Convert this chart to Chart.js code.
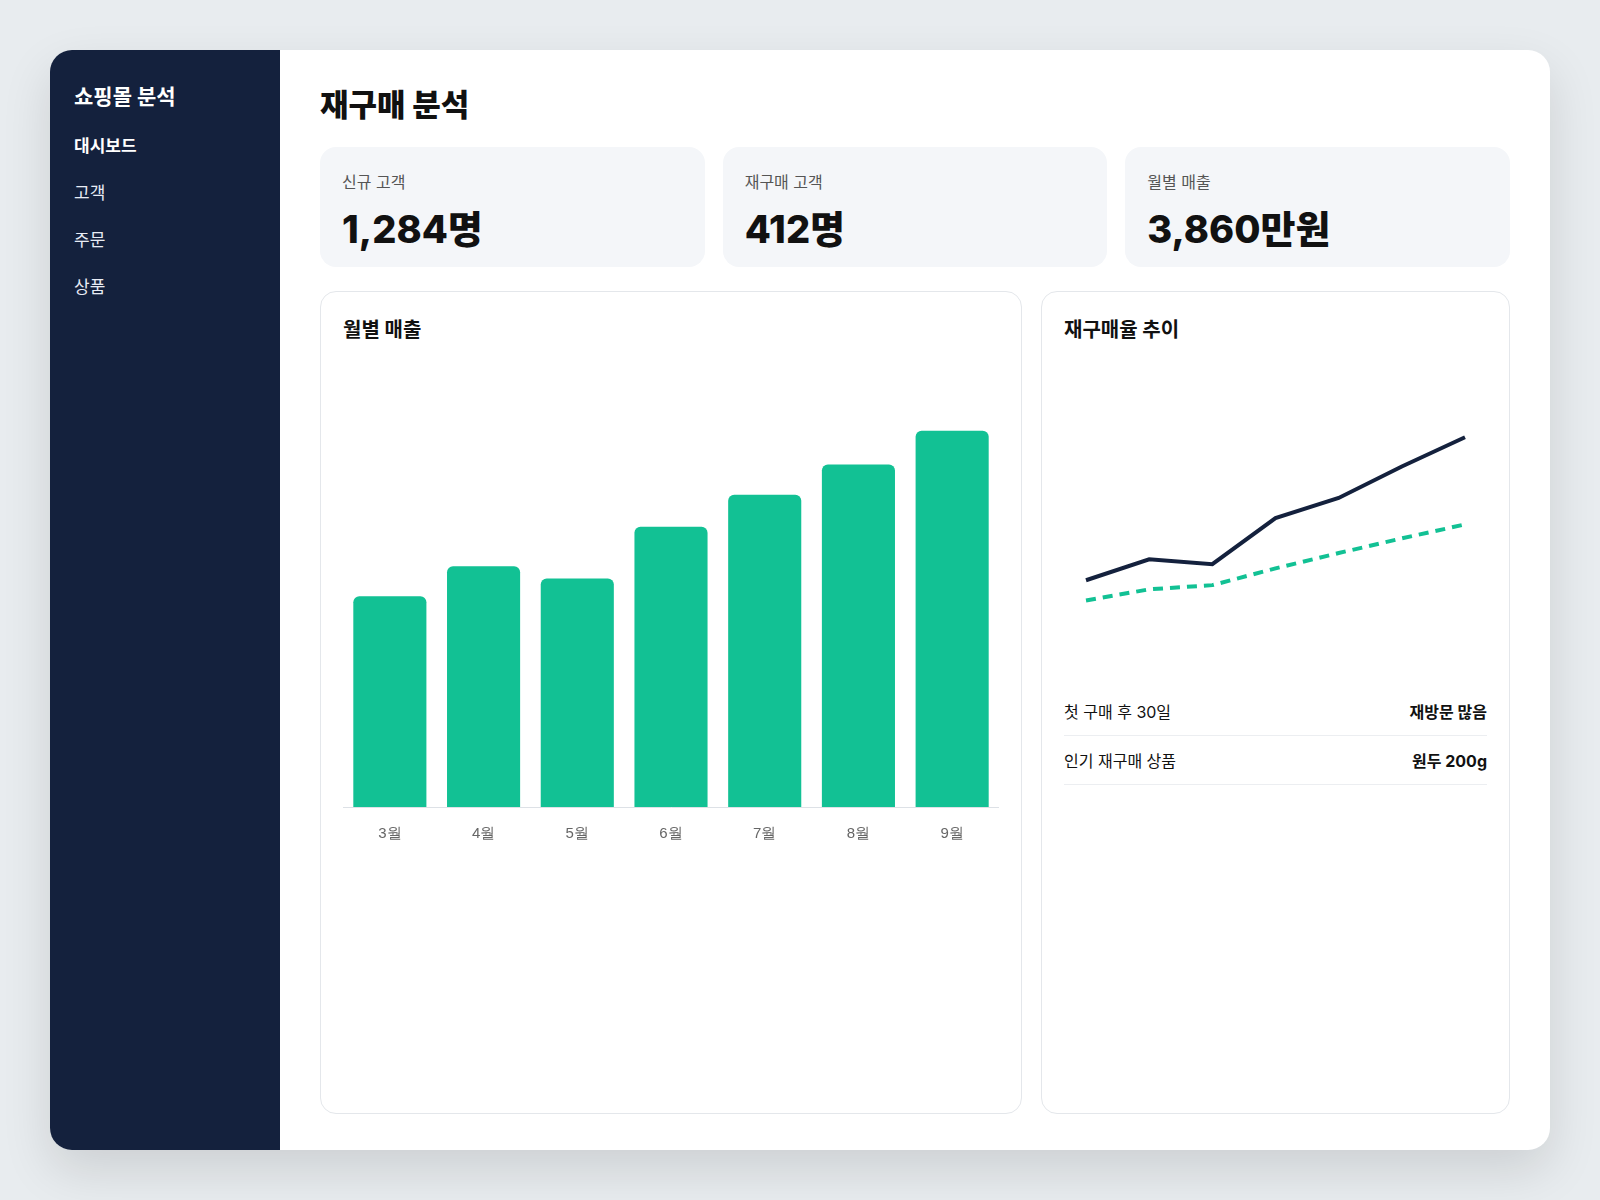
<!DOCTYPE html>
<html lang="ko">
<head>
<meta charset="utf-8">
<script src="https://cdn.jsdelivr.net/npm/chart.js@4"></script>
<style>
  * { box-sizing: border-box; margin: 0; padding: 0; }
  body { width: 1600px; height: 1200px; background: #e8ecef; font-family: Inter, "Noto Sans CJK KR", sans-serif; color: #111; }
  .app { position: absolute; left: 50px; top: 50px; width: 1500px; height: 1100px; background: #fff; border-radius: 22px; overflow: hidden; display: flex; box-shadow: 0 20px 50px rgba(0,0,0,.12); }
  .side { width: 230px; background: #14213d; color: #fff; padding: 30px 24px; }
  .side h2 { font-size: 21px; font-weight: 700; margin-bottom: 22px; }
  .side a { display: block; color: #e8ecf5; font-size: 17px; margin-bottom: 22px; }
  .side a.on { font-weight: 700; color: #fff; }
  .main { flex: 1; padding: 30px 40px; }
  h1 { font-size: 31px; font-weight: 800; margin-bottom: 22px; }
  .kpis { display: flex; gap: 18px; margin-bottom: 24px; }
  .kpi { flex: 1; background: #f4f6f9; border-radius: 16px; height: 120px; padding: 22px 22px; }
  .kpi .l { font-size: 16px; color: #555; }
  .kpi .v { font-size: 38px; font-weight: 800; margin-top: 6px; }
  .row { display: flex; gap: 19px; }
  .panel { border: 1px solid #e4e7eb; border-radius: 16px; height: 823px; padding: 22px 22px; }
  .panel h3 { font-size: 20px; font-weight: 700; }
  .p1 { width: 702px; }
  .p2 { flex: 1; }
  .bars { position: relative; height: 490px; margin-top: 20px; }
  .lines { position: relative; height: 300px; margin-top: 14px; }
  .info { margin-top: 30px; }
  .info div { display: flex; justify-content: space-between; font-size: 16px; padding: 12px 0; border-bottom: 1px solid #eceef1; }
  .info b { font-weight: 700; }
</style>
</head>
<body>
<div class="app">
  <div class="side">
    <h2>쇼핑몰 분석</h2>
    <a class="on">대시보드</a><a>고객</a><a>주문</a><a>상품</a>
  </div>
  <div class="main">
    <h1>재구매 분석</h1>
    <div class="kpis">
      <div class="kpi"><div class="l">신규 고객</div><div class="v">1,284명</div></div>
      <div class="kpi"><div class="l">재구매 고객</div><div class="v">412명</div></div>
      <div class="kpi"><div class="l">월별 매출</div><div class="v">3,860만원</div></div>
    </div>
    <div class="row">
      <div class="panel p1"><h3>월별 매출</h3><div class="bars"><canvas id="barChart"></canvas></div></div>
      <div class="panel p2"><h3>재구매율 추이</h3><div class="lines"><canvas id="lineChart"></canvas></div>
        <div class="info">
          <div><span>첫 구매 후 30일</span><b>재방문 많음</b></div>
          <div><span>인기 재구매 상품</span><b>원두 200g</b></div>
        </div>
      </div>
    </div>
  </div>
</div>
<script>
const months = ["3월", "4월", "5월", "6월", "7월", "8월", "9월"];
const sales = [560, 640, 607, 745, 830, 910, 1000];
const repeatRate = [11.0, 14.0, 13.3, 19.9, 22.8, 27.3, 31.5];
const compareRate = [8.1, 9.7, 10.3, 12.7, 14.9, 17.0, 19.0];

new Chart(document.getElementById("barChart"), {
  type: "bar",
  data: {
    labels: months,
    datasets: [{ data: sales, backgroundColor: "#12c194", borderRadius: 6, borderSkipped: "bottom", categoryPercentage: 0.78, barPercentage: 1 }]
  },
  options: {
    responsive: true, maintainAspectRatio: false, animation: false,
    plugins: { legend: { display: false }, tooltip: { enabled: false } },
    scales: {
      x: { grid: { display: false }, border: { color: "#dde1e6" }, ticks: { color: "#666", font: { size: 15 }, padding: 10 } },
      y: { display: false, min: 0, max: 1180 }
    }
  }
});

new Chart(document.getElementById("lineChart"), {
  type: "line",
  data: {
    labels: months,
    datasets: [
      { data: repeatRate, borderColor: "#14213d", borderWidth: 4, pointRadius: 0, tension: 0 },
      { data: compareRate, borderColor: "#12c194", borderWidth: 4, borderDash: [10, 7], pointRadius: 0, tension: 0 }
    ]
  },
  options: {
    responsive: true, maintainAspectRatio: false, animation: false,
    layout: { padding: { left: 22, right: 22 } },
    plugins: { legend: { display: false }, tooltip: { enabled: false } },
    scales: { x: { display: false }, y: { display: false, min: 0, max: 43 } }
  }
});
</script>
</body>
</html>
